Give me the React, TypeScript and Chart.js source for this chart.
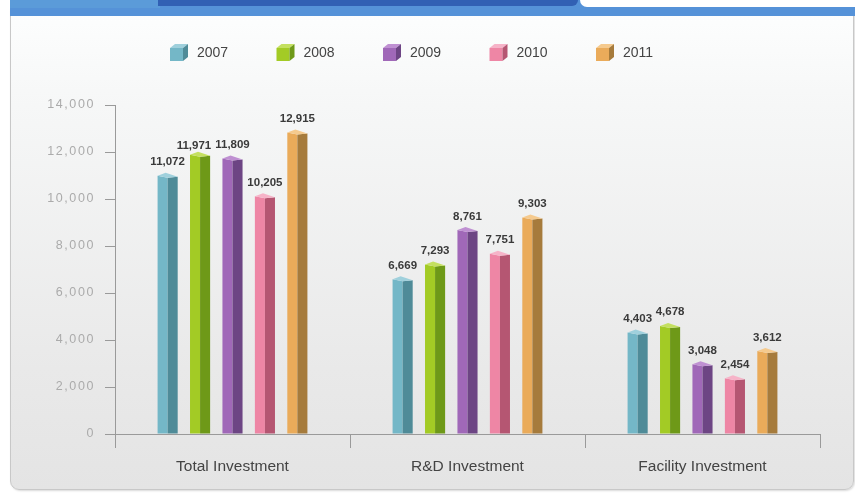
import React, { useEffect, useRef } from "react";
import { Chart, registerables } from "chart.js";

Chart.register(...registerables);

const categories = ["Total Investment", "R&D Investment", "Facility Investment"];
const years = ["2007", "2008", "2009", "2010", "2011"];
const values2007 = [11072, 6669, 4403];
const values2008 = [11971, 7293, 4678];
const values2009 = [11809, 8761, 3048];
const values2010 = [10205, 7751, 2454];
const values2011 = [12915, 9303, 3612];
const yTickValues = [0, 2000, 4000, 6000, 8000, 10000, 12000, 14000];

const frontColors = ["#74b7c7", "#a3cb25", "#a068b8", "#ee86a5", "#eaab5a"];
const sideColors = ["#4f8b98", "#6e9918", "#6d4584", "#b55672", "#a67b3c"];
const topColors = ["#9fd0dc", "#c4e060", "#bf90d2", "#f6b3c8", "#f5ca8e"];

const fmt = (v: number) => v.toLocaleString("en-US");

const threeDPlugin = {
  id: "threeD",
  afterDatasetsDraw(chart: any) {
    const ctx = chart.ctx;
    ctx.save();
    const labels: any[][] = [];
    chart.data.datasets.forEach((ds: any, di: number) => {
      const meta = chart.getDatasetMeta(di);
      meta.data.forEach((el: any, i: number) => {
        const { x, y, base, width } = el.getProps(["x", "y", "base", "width"], true);
        const x0 = x - width / 2;
        const x1 = x + width / 2;
        const xm = x0 + width * 0.5;
        const xb = x0 + width * 0.55;
        ctx.fillStyle = frontColors[di];
        ctx.beginPath();
        ctx.moveTo(x0, y + 2);
        ctx.lineTo(xm, y + 4);
        ctx.lineTo(xm, base);
        ctx.lineTo(x0, base);
        ctx.closePath();
        ctx.fill();
        ctx.fillStyle = sideColors[di];
        ctx.beginPath();
        ctx.moveTo(xm, y + 4);
        ctx.lineTo(x1, y + 3);
        ctx.lineTo(x1, base);
        ctx.lineTo(xm, base);
        ctx.closePath();
        ctx.fill();
        ctx.fillStyle = topColors[di];
        ctx.beginPath();
        ctx.moveTo(x0, y + 2);
        ctx.lineTo(xb - 3, y - 1);
        ctx.lineTo(x1, y + 3);
        ctx.lineTo(xm, y + 4);
        ctx.closePath();
        ctx.fill();
        if (!labels[i]) labels[i] = [];
        labels[i][di] = { text: fmt(ds.data[i]), x, y: y - 6 };
      });
    });
    ctx.font = "bold 11.5px 'Liberation Sans', Arial, sans-serif";
    ctx.fillStyle = "#3a3a3a";
    ctx.textAlign = "center";
    ctx.textBaseline = "bottom";
    labels.forEach((row) => {
      // simple overlap avoidance: push the earlier label left
      for (let k = row.length - 2; k >= 0; k--) {
        const a = row[k];
        const b = row[k + 1];
        const wa = ctx.measureText(a.text).width;
        const wb = ctx.measureText(b.text).width;
        const overlapX = a.x + wa / 2 + 2 - (b.x - wb / 2);
        const overlapY = Math.abs(a.y - b.y) < 12;
        if (overlapX > 0 && overlapY) {
          a.x -= overlapX + 2;
          a.y += 5;
        }
      }
      row.forEach((l) => ctx.fillText(l.text, l.x, l.y));
    });
    ctx.restore();
  },
  afterDraw(chart: any) {
    const ctx = chart.ctx;
    ctx.save();
    const ys = chart.scales.y;
    ctx.font = "12.5px 'Liberation Sans', Arial, sans-serif";
    (ctx as any).letterSpacing = "1.6px";
    ctx.fillStyle = "#ababab";
    ctx.textAlign = "right";
    ctx.textBaseline = "middle";
    yTickValues.forEach((t) => {
      ctx.fillText(fmt(t), ys.left + 95, ys.getPixelForValue(t));
    });
    (ctx as any).letterSpacing = "0px";
    const legendX0 = 170;
    const pitch = 106.5;
    const ly = 44;
    chart.data.datasets.forEach((ds: any, di: number) => {
      const x = legendX0 + di * pitch;
      const y = ly;
      ctx.fillStyle = frontColors[di];
      ctx.fillRect(x, y + 4, 13, 13);
      ctx.fillStyle = topColors[di];
      ctx.beginPath();
      ctx.moveTo(x, y + 4);
      ctx.lineTo(x + 5, y);
      ctx.lineTo(x + 18, y);
      ctx.lineTo(x + 13, y + 4);
      ctx.closePath();
      ctx.fill();
      ctx.fillStyle = sideColors[di];
      ctx.beginPath();
      ctx.moveTo(x + 13, y + 4);
      ctx.lineTo(x + 18, y);
      ctx.lineTo(x + 18, y + 13);
      ctx.lineTo(x + 13, y + 17);
      ctx.closePath();
      ctx.fill();
      ctx.font = "14px 'Liberation Sans', Arial, sans-serif";
      ctx.fillStyle = "#444";
      ctx.textAlign = "left";
      ctx.textBaseline = "middle";
      ctx.fillText(ds.label, x + 27, y + 9);
    });
    ctx.restore();
  },
};

export default function App() {
  const ref = useRef<HTMLCanvasElement>(null);
  useEffect(() => {
    const seriesValues = [values2007, values2008, values2009, values2010, values2011];
    const chart = new Chart(ref.current!, {
      type: "bar",
      data: {
        labels: categories,
        datasets: years.map((yr, i) => ({
          label: yr,
          data: seriesValues[i],
          backgroundColor: "rgba(0,0,0,0)",
          borderWidth: 0,
          categoryPercentage: 0.69,
          barPercentage: 0.62,
        })),
      },
      options: {
        responsive: false,
        animation: false,
        layout: { padding: { top: 105, right: 35, bottom: 0, left: 0 } },
        plugins: {
          legend: { display: false },
          title: { display: false },
          tooltip: { enabled: false },
        },
        scales: {
          x: {
            offset: true,
            grid: {
              offset: true,
              drawOnChartArea: false,
              drawTicks: true,
              tickLength: 14,
              color: "#9a9a9a",
            },
            border: { display: true, color: "#9a9a9a" },
            ticks: {
              color: "#444",
              padding: 9,
              font: { family: "'Liberation Sans', Arial, sans-serif", size: 15.5 },
            },
            afterFit: (s: any) => {
              s.height = 60;
            },
          },
          y: {
            min: 0,
            max: 14000,
            ticks: { stepSize: 2000, display: false },
            grid: {
              drawOnChartArea: false,
              drawTicks: true,
              tickLength: 10,
              color: "#9a9a9a",
            },
            border: { display: true, color: "#9a9a9a" },
            afterFit: (s: any) => {
              s.width = 115;
            },
          },
        },
      },
      plugins: [threeDPlugin],
    });
    return () => chart.destroy();
  }, []);

  return (
    <div
      style={{
        position: "fixed",
        left: 0,
        top: 0,
        width: 855,
        height: 494,
        background: "#fff",
        overflow: "hidden",
      }}
    >
      <div
        style={{
          position: "absolute",
          left: 10,
          top: 8,
          width: 842,
          height: 480,
          border: "1px solid #c8c8c8",
          borderRadius: "0 0 9px 9px",
          background: "linear-gradient(#fdfefe 0%, #f6f7f7 20%, #e9e9e9 75%, #e4e4e4 100%)",
          boxShadow: "1px 1px 2px rgba(0,0,0,0.15)",
        }}
      />
      <div style={{ position: "absolute", left: 10, top: 0, width: 845, height: 16, background: "#5592d8" }} />
      <div style={{ position: "absolute", left: 10, top: 0, width: 150, height: 8, background: "#5b9bd9" }} />
      <div
        style={{
          position: "absolute",
          left: 158,
          top: 0,
          width: 420,
          height: 6,
          background: "#3160b4",
          borderRadius: "0 0 8px 0",
        }}
      />
      <div
        style={{
          position: "absolute",
          left: 580,
          top: 0,
          width: 275,
          height: 7,
          background: "#fff",
          borderRadius: "0 0 0 7px",
        }}
      />
      <canvas ref={ref} width={855} height={494} style={{ position: "absolute", left: 0, top: 0 }} />
    </div>
  );
}
